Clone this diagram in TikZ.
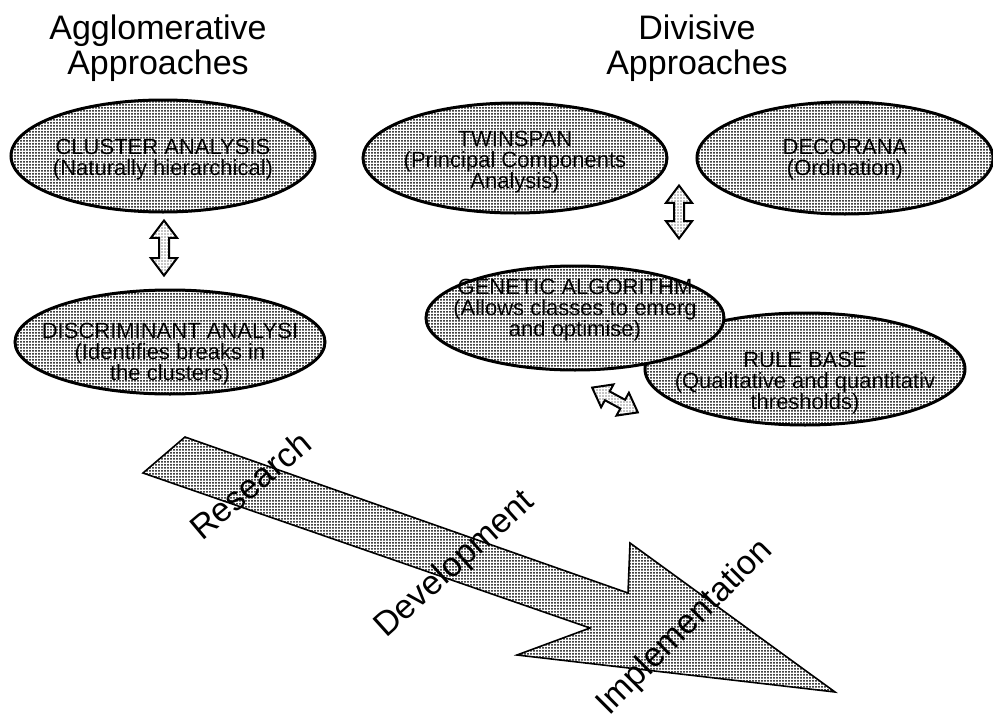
\documentclass[tikz,border=0pt]{standalone}
\usepackage{fontspec}
\setmainfont{Liberation Sans}
\usetikzlibrary{shapes.geometric,shapes.arrows,patterns.meta}
\begin{document}
\begin{tikzpicture}[x=0.5pt,y=-0.5pt,
  dotfill/.style={preaction={fill=white},pattern={Dots[radius=0.5pt,distance=1.5pt]},pattern color=black},
  lightdots/.style={preaction={fill=white},pattern={Dots[radius=0.35pt,distance=1.5pt]},pattern color=black},
  bubble/.style={ellipse,draw=black,line width=1.5pt,dotfill,inner sep=0pt,
                 minimum width=#1},
  bubble/.default=152pt,
  txt/.style={align=center,inner sep=0pt,font=\fontsize{11}{10.5}\selectfont},
  title/.style={align=center,inner sep=0pt,font=\fontsize{17}{17.5}\selectfont},
  stage/.style={inner sep=0pt,font=\fontsize{17}{17}\selectfont},
  dbl/.style={double arrow,draw=black,line width=1pt,lightdots,inner xsep=0pt,inner ysep=2pt,
              double arrow head extend=4pt,double arrow tip angle=74,minimum height=#1},
]
\useasboundingbox (0,0) rectangle (993,723);
\fill[white] (0,0) rectangle (993,723);

% column headings
\node[title,anchor=north] (aggl) at (158,14) {Agglomerative\\Approaches};
\node[title,anchor=north] (divi) at (697,14) {Divisive\\Approaches};

% agglomerative column
\node[bubble,minimum height=56pt] (clus) at (163,156) {};
\node[txt] (clust) at ([yshift=-2pt]clus.center) {CLUSTER ANALYSIS\\(Naturally hierarchical)};
\node[bubble=155pt,minimum height=52pt] (disc) at (170,342) {};
\node[txt] (disct) at ([yshift=-6pt]disc.center) {DISCRIMINANT ANALYSI\\(Identifies breaks in\\the clusters)};
\node[dbl=27.5pt,rotate=90] (a1) at (164,248) {};

% divisive column
\node[bubble,minimum height=55pt] (twin) at (515,158) {};
\node[txt] (twint) at ([yshift=-2pt]twin.center) {TWINSPAN\\(Principal Components\\Analysis)};
\node[bubble=148pt,minimum height=56pt] (deco) at (845,158) {};
\node[txt] (decot) at ([yshift=-1pt]deco.center) {DECORANA\\(Ordination)};
\node[dbl=26.5pt,rotate=90] (a2) at (679,212) {};

\node[bubble=160pt,minimum height=56pt] (rule) at (805,369) {};
\node[txt] (rulet) at ([yshift=-7pt]rule.center) {RULE BASE\\(Qualitative and quantitativ\\thresholds)};
\node[bubble=149pt,minimum height=52pt] (gene) at (575,318) {};
\node[txt] (genet) at ([yshift=4pt]gene.center) {GENETIC ALGORITHM\\(Allows classes to emerg\\and optimise)};
\node[dbl=26pt,rotate=-28.5] (a3) at (615,400) {};

% research-to-implementation arrow
\coordinate (tailT) at (185,437);
\coordinate (notchT) at (628,593);
\coordinate (headT) at (630,543);
\coordinate (tip) at (835,692);
\coordinate (headB) at (517,655);
\coordinate (notchB) at (590,628);
\coordinate (tailB) at (143,473);
\draw[line width=0.8pt,dotfill] (tailT) -- (notchT) -- (headT) -- (tip) -- (headB) -- (notchB) -- (tailB) -- cycle;

\node[stage,rotate=40] (res) at (250,485) {Research};
\node[stage,rotate=42] (dev) at (455,565) {Development};
\node[stage,rotate=45] (imp) at (685,628) {Implementation};
\end{tikzpicture}
\end{document}
